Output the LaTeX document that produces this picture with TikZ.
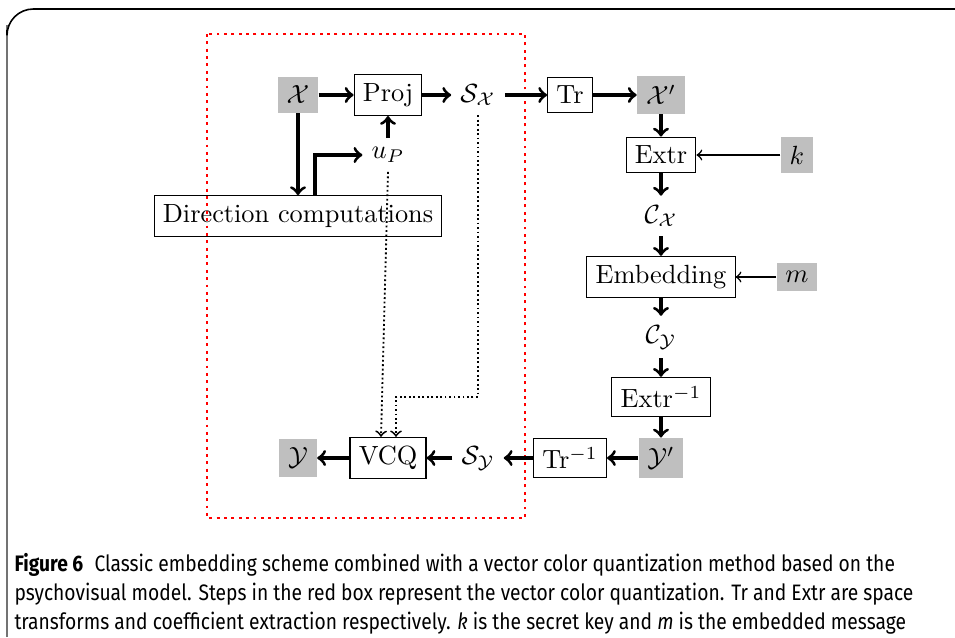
\documentclass[tikz,border=0pt]{standalone}
\usepackage{fontspec}
\newfontfamily\capfont[FakeStretch=0.86]{Fira Sans}
\usetikzlibrary{calc}
\begin{document}
\begin{tikzpicture}[
		x=0.38pt, y=-0.38pt,
		block/.style={draw, thin},
		keybox/.style={fill=black!25},
		sig/.style={->, very thick},
		thinsig/.style={->, semithick},
		quant/.style={->, line width=0.7pt, dash pattern=on 0.7pt off 1pt},
		vcqframe/.style={draw=red, line width=1.1pt, dash pattern=on 1.1pt off 1.7pt}
	]
	\useasboundingbox (0,0) rectangle (955,637);
	% outer frame of the figure
	\draw[black!55, line width=0.6pt] (7,637) -- (7,25);
	\draw[line width=0.6pt, rounded corners=10] (7,30) -- (7,9) -- (955,9);
	% red box: vector color quantization
	\draw[vcqframe] (207,34) rectangle (525,518);
	% nodes
	\node[keybox] (X) at (298,95) {$\mathcal{X}$};
	\node[block] (Proj) at (388,95) {Proj};
	\node (SX) at (478,95) {$\mathcal{S}_{\mathcal{X}}$};
	\node[block] (Tr) at (570,95) {Tr};
	\node[keybox] (Xp) at (661,95) {$\mathcal{X}'$};
	\node (uP) at (388,155) {$u_P$};
	\node[block] (Extr) at (661,155) {Extr};
	\node[keybox] (k) at (797,155) {$k$};
	\node[block] (Dir) at (298,216) {Direction computations};
	\node (CX) at (661,216) {$\mathcal{C}_{\mathcal{X}}$};
	\node[block] (Emb) at (661,277) {Embedding};
	\node[keybox] (m) at (797,277) {$m$};
	\node (CY) at (661,337) {$\mathcal{C}_{\mathcal{Y}}$};
	\node[block] (Extri) at (661,397) {Extr$^{-1}$};
	\node[keybox] (Yp) at (661,458) {$\mathcal{Y}'$};
	\node[block] (Tri) at (570,458) {Tr$^{-1}$};
	\node (SY) at (478,458) {$\mathcal{S}_{\mathcal{Y}}$};
	\node[block] (VCQ) at (388,458) {VCQ};
	\node[keybox] (Y) at (298,458) {$\mathcal{Y}$};
	% connectors
	\draw[sig] (X) -- (Proj);
	\draw[sig] (Proj) -- (SX);
	\draw[sig] (SX) -- (Tr);
	\draw[sig] (Tr) -- (Xp);
	\draw[sig] (Xp) -- (Extr);
	\draw[thinsig] (k) -- (Extr);
	\draw[sig] (Extr) -- (CX);
	\draw[sig] (CX) -- (Emb);
	\draw[thinsig] (m) -- (Emb);
	\draw[sig] (Emb) -- (CY);
	\draw[sig] (CY) -- (Extri);
	\draw[sig] (Extri) -- (Yp);
	\draw[sig] (Yp) -- (Tri);
	\draw[sig] (Tri) -- (SY);
	\draw[sig] (SY) -- (VCQ);
	\draw[sig] (VCQ) -- (Y);
	\draw[sig] (X) -- (Dir);
	\draw[sig] ($(Dir.north)+(17,0)$) |- (uP);
	\draw[sig] (uP) -- (Proj);
	\draw[quant] (uP.south) -- ($(VCQ.north)+(-7,0)$);
	\draw[quant] (SX.south) |- ($(VCQ.north)+(8,-40)$) -- ($(VCQ.north)+(8,0)$);
	% caption
	\node[anchor=north west, inner sep=0pt, align=left,
		font=\capfont\fontsize{8.5}{10.9}\selectfont] (cap) at (14,553)
		{\textbf{Figure 6}\hspace{0.5em}Classic embedding scheme combined with a vector color quantization method based on the\\
		psychovisual model. Steps in the red box represent the vector color quantization. Tr and Extr are space\\
		transforms and coefficient extraction respectively. \textit{k} is the secret key and \textit{m} is the embedded message};
\end{tikzpicture}
\end{document}
